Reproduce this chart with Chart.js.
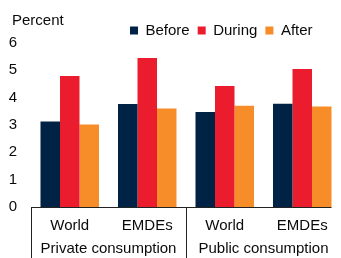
<!DOCTYPE html>
<html>
<head>
<meta charset="utf-8">
<script src="https://cdn.jsdelivr.net/npm/chart.js@4"></script>
<style>
html,body{margin:0;padding:0;background:#fff;}
#wrap{width:341px;height:258px;position:relative;}
</style>
</head>
<body>
<div id="wrap"><canvas id="c"></canvas></div>
<script>
const categories = ['World', 'EMDEs', 'World', 'EMDEs'];
const groups = ['Private consumption', 'Public consumption'];
const before = [3.13, 3.77, 3.48, 3.78];
const during = [4.79, 5.45, 4.43, 5.05];
const after = [3.02, 3.60, 3.70, 3.68];
const yTicks = [0, 1, 2, 3, 4, 5, 6];
const unitLabel = 'Percent';

const FONT = "'Liberation Sans', Arial, sans-serif";
const TXT = '#0a0a0a';

const framePlugin = {
  id: 'frame',
  afterLayout(chart) {
    const lg = chart.legend;
    if (lg) {
      const w = lg.right - lg.left;
      lg.left = 122; lg.right = lg.left + w;
      lg.top += 5; lg.bottom += 5;
    }
  },
  afterDraw(chart) {
    const ctx = chart.ctx;
    const x = chart.scales.x;
    const a = chart.chartArea;
    const lastMeta = chart.getDatasetMeta(2).data[categories.length - 1];
    const endX = lastMeta.x + lastMeta.width / 2;
    ctx.save();
    ctx.strokeStyle = '#222222';
    ctx.lineWidth = 1;
    ctx.beginPath();
    const yb = Math.round(a.bottom) + 0.5;
    ctx.moveTo(a.left, yb); ctx.lineTo(endX, yb);
    const sepX = Math.round(a.left) + 0.5;
    ctx.moveTo(sepX, yb); ctx.lineTo(sepX, chart.height);
    const mid = Math.round((x.getPixelForValue(1) + x.getPixelForValue(2)) / 2) + 0.5;
    ctx.moveTo(mid, yb); ctx.lineTo(mid, chart.height);
    ctx.stroke();
    ctx.fillStyle = TXT;
    ctx.font = '15px ' + FONT;
    ctx.textBaseline = 'alphabetic';
    ctx.textAlign = 'left';
    ctx.fillText(unitLabel, 12, 24.5);
    ctx.restore();
  }
};

function noPad(s) { s.paddingLeft = 0; s.paddingRight = 0; }

new Chart(document.getElementById('c'), {
  type: 'bar',
  data: {
    labels: categories,
    datasets: [
      { label: 'Before', data: before, backgroundColor: '#002345' },
      { label: 'During', data: during, backgroundColor: '#EB1C2D' },
      { label: 'After', data: after, backgroundColor: '#F78D28' }
    ]
  },
  options: {
    responsive: true,
    maintainAspectRatio: false,
    animation: false,
    devicePixelRatio: 1,
    layout: { padding: { top: 10, left: 9, right: 0, bottom: 0 } },
    datasets: { bar: { categoryPercentage: 0.755, barPercentage: 1.0 } },
    plugins: {
      tooltip: { enabled: false },
      title: { display: false },
      legend: {
        display: true,
        position: 'top',
        align: 'start',
        labels: {
          boxWidth: 8,
          boxHeight: 8,
          padding: 8,
          color: TXT,
          font: { family: FONT, size: 15 }
        }
      }
    },
    scales: {
      y: {
        min: 0,
        max: 6,
        afterBuildTicks(s) { s.ticks = yTicks.map(v => ({ value: v })); },
        afterFit(s) { s.width = 22; s.paddingTop = 0; s.paddingBottom = 0; },
        grid: { display: false, drawTicks: false },
        border: { display: false },
        ticks: { padding: 14, color: TXT, font: { family: FONT, size: 15 } }
      },
      x: {
        afterFit(s) { noPad(s); s.height = 27; },
        grid: { display: false, drawTicks: false },
        border: { display: false },
        ticks: { padding: 10, color: TXT, font: { family: FONT, size: 15 }, maxRotation: 0, autoSkip: false }
      },
      x2: {
        type: 'category',
        labels: groups,
        position: 'bottom',
        offset: true,
        afterFit(s) { noPad(s); s.height = 24; },
        grid: { display: false, drawTicks: false },
        border: { display: false },
        ticks: { padding: 6, color: TXT, font: { family: FONT, size: 15 }, maxRotation: 0, autoSkip: false }
      }
    }
  },
  plugins: [framePlugin]
});
</script>
</body>
</html>
